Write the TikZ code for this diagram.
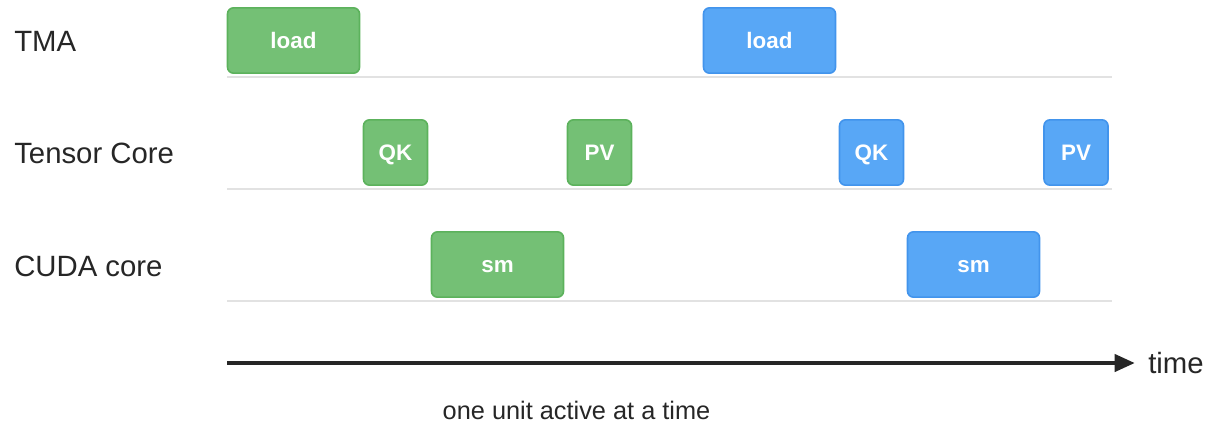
\documentclass[tikz,border=0pt]{standalone}
\usepackage{fontspec}
\setmainfont{Liberation Sans}
\usetikzlibrary{arrows.meta}
\definecolor{gfill}{RGB}{116,192,117}
\definecolor{gdraw}{RGB}{92,178,92}
\definecolor{bfill}{RGB}{88,167,246}
\definecolor{bdraw}{RGB}{66,148,236}
\definecolor{grid}{RGB}{226,226,226}
\definecolor{ink}{RGB}{38,38,38}
\tikzset{
  task/.style={rounded corners=4.5pt, line width=1.2pt, inner sep=0pt, minimum height=49pt,
    text=white, font=\fontsize{16.8}{18}\selectfont\bfseries, anchor=center,
    text height=11.25pt, text depth=0pt},
  gtask/.style={task, fill=gfill, draw=gdraw},
  btask/.style={task, fill=bfill, draw=bdraw},
  lbl/.style={font=\fontsize{22}{24}\selectfont, text=ink, anchor=west, inner sep=0pt},
  gridline/.style={draw=grid, line width=1pt}
}
\begin{document}
\begin{tikzpicture}[x=0.75pt,y=-0.75pt]
\useasboundingbox (0,0) rectangle (1212,426);
% labels
\node[lbl] (tma) at (14,41) {TMA};
\node[lbl] (tc) at (14,153) {Tensor Core};
\node[lbl] (cuda) at (14,266) {CUDA core};
% grid lines
\coordinate (g1a) at (227,77); \coordinate (g1b) at (1112,77);
\coordinate (g2a) at (227,189); \coordinate (g2b) at (1112,189);
\coordinate (g3a) at (227,301); \coordinate (g3b) at (1112,301);
\draw[gridline] (g1a) -- (g1b);
\draw[gridline] (g2a) -- (g2b);
\draw[gridline] (g3a) -- (g3b);
% TMA
\node[gtask, minimum width=99pt] (load1) at (293.5,40.5) {load};
\node[btask, minimum width=99pt] (load2) at (769.5,40.5) {load};
% Tensor core
\node[gtask, minimum width=48pt] (qk1) at (395.5,152.5) {QK};
\node[gtask, minimum width=48pt] (pv1) at (599.5,152.5) {PV};
\node[btask, minimum width=48pt] (qk2) at (871.5,152.5) {QK};
\node[btask, minimum width=48pt] (pv2) at (1076,152.5) {PV};
% CUDA core
\node[gtask, minimum width=99pt] (sm1) at (497.5,264.5) {sm};
\node[btask, minimum width=99pt] (sm2) at (973.5,264.5) {sm};
% time axis
\coordinate (t0) at (227,363);
\node[font=\fontsize{22}{24}\selectfont, text=ink, anchor=west, inner sep=0pt] (time) at (1148,363) {time};
\draw[ink, line width=2.4pt, -{Triangle[length=15pt,width=13pt]}] (t0) -- ([xshift=-10pt]time.west);
\node[font=\fontsize{19}{21}\selectfont, text=ink, inner sep=0pt] (note) at (576.5,410) {one unit active at a time};
\end{tikzpicture}
\end{document}
